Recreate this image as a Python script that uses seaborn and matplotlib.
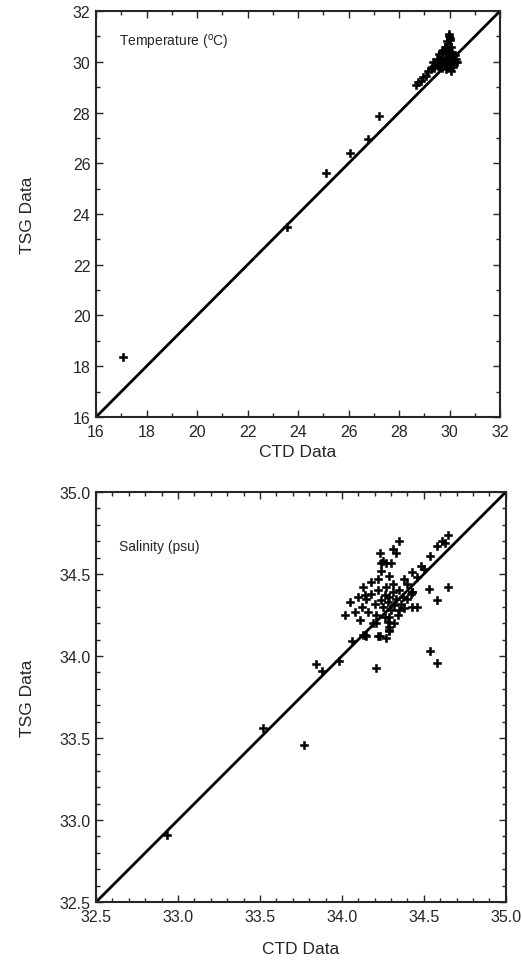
import matplotlib
matplotlib.use('Agg')
import matplotlib.pyplot as plt
import pandas as pd
import seaborn as sns
from matplotlib.ticker import MultipleLocator

# temperature: CTD vs TSG (deg C)
temp_ctd = [17.05, 23.57, 25.11, 26.07, 26.76, 27.20,
            28.68, 28.76, 28.85, 28.95, 29.05, 29.15, 29.25, 29.30, 29.35,
            29.45, 29.50, 29.55, 29.60, 29.65, 29.70, 29.70, 29.75, 29.80,
            29.80, 29.85, 29.85, 29.90, 29.90, 29.95, 29.96, 30.00, 30.00,
            30.00, 30.05, 30.05, 30.10, 30.10, 30.15, 30.15, 30.20, 30.25,
            30.30, 29.95, 29.75, 29.60, 29.90, 30.05, 29.90, 30.00, 29.98,
            29.40, 29.55, 29.70, 30.20, 29.85, 30.10]
temp_tsg = [18.35, 23.48, 25.60, 26.40, 26.96, 27.86,
            29.08, 29.19, 29.25, 29.39, 29.45, 29.62, 29.70, 29.80, 30.00,
            29.90, 30.10, 29.85, 30.30, 30.05, 29.75, 30.20, 30.45, 29.95,
            30.60, 30.30, 29.70, 30.10, 30.80, 30.45, 31.10, 29.90, 30.25,
            30.95, 30.60, 29.65, 30.05, 30.35, 29.80, 30.20, 30.00, 30.10,
            30.00, 30.70, 30.00, 29.95, 29.80, 30.40, 30.55, 30.85, 31.00,
            29.75, 30.00, 30.40, 30.25, 30.15, 29.90]

# salinity: CTD vs TSG (psu)
sal_ctd = [32.93, 33.52, 33.77, 33.84, 33.88, 33.98, 34.06, 34.14, 34.21,
           34.54, 34.58, 34.53, 34.65, 34.58,
           34.43, 34.48, 34.50, 34.54, 34.58, 34.61, 34.63, 34.65, 34.46,
           34.40, 34.38,
           34.35, 34.31, 34.33, 34.23, 34.24, 34.27, 34.30, 34.24, 34.29,
           34.25,
           34.08, 34.13, 34.16, 34.15, 34.18, 34.20, 34.21, 34.22, 34.24,
           34.25, 34.26, 34.27, 34.28, 34.28, 34.29, 34.29, 34.30, 34.31,
           34.32, 34.33, 34.34, 34.35, 34.36, 34.37, 34.38, 34.40, 34.42,
           34.43, 34.46, 34.19, 34.23, 34.22, 34.27, 34.29, 34.15, 34.11,
           34.12, 34.05, 34.02, 34.10, 34.32, 34.26, 34.35, 34.31, 34.18,
           34.22, 34.14, 34.13, 34.21, 34.29, 34.29, 34.43, 34.43]
sal_tsg = [32.91, 33.56, 33.46, 33.95, 33.91, 33.97, 34.09, 34.13, 33.93,
           34.03, 33.96, 34.41, 34.42, 34.34,
           34.51, 34.55, 34.53, 34.61, 34.67, 34.70, 34.69, 34.74, 34.48,
           34.44, 34.47,
           34.70, 34.65, 34.63, 34.63, 34.57, 34.57, 34.57, 34.52, 34.49,
           34.58,
           34.27, 34.42, 34.27, 34.35, 34.38, 34.32, 34.25, 34.40, 34.34,
           34.30, 34.37, 34.42, 34.21, 34.33, 34.36, 34.15, 34.28, 34.39,
           34.31, 34.35, 34.25, 34.40, 34.32, 34.36, 34.29, 34.35, 34.38,
           34.39, 34.30, 34.20, 34.12, 34.12, 34.11, 34.16, 34.12, 34.22,
           34.30, 34.33, 34.25, 34.36, 34.20, 34.24, 34.28, 34.44, 34.45,
           34.47, 34.37, 34.13, 34.20, 34.24, 34.18, 34.30, 34.39]


def draw_panel(ax, ctd, tsg, lims, major, minor, fmt, label, label_y, msize):
    df = pd.DataFrame({'CTD': ctd, 'TSG': tsg})
    ax.plot(lims, lims, color='black', lw=2.0, zorder=1)
    sns.scatterplot(data=df, x='CTD', y='TSG', ax=ax, marker='P',
                    color='black', s=msize, edgecolor='black',
                    linewidth=0.4, zorder=2)
    ax.set_xlim(lims)
    ax.set_ylim(lims)
    ax.xaxis.set_major_locator(MultipleLocator(major))
    ax.yaxis.set_major_locator(MultipleLocator(major))
    ax.xaxis.set_minor_locator(MultipleLocator(minor))
    ax.yaxis.set_minor_locator(MultipleLocator(minor))
    ax.xaxis.set_major_formatter(fmt)
    ax.yaxis.set_major_formatter(fmt)
    ax.tick_params(which='both', direction='in', top=True, right=True,
                   labelsize=11.5, width=1.0)
    ax.tick_params(which='major', length=5)
    ax.tick_params(which='minor', length=3)
    ax.tick_params(axis='x', which='major', pad=5)
    ax.tick_params(axis='y', which='major', pad=4)
    for s in ax.spines.values():
        s.set_linewidth(1.5)
    ax.set_xlabel('CTD Data', fontsize=12.5)
    ax.set_ylabel('TSG Data', fontsize=12.5)
    ax.yaxis.set_label_coords(-0.15, 0.5)
    ax.text(0.057, label_y, label, transform=ax.transAxes, fontsize=10,
            va='center', ha='left')


sns.set_style('ticks')
plt.rcParams['font.family'] = ['Liberation Sans', 'DejaVu Sans']

fig = plt.figure(figsize=(5.22, 9.62), dpi=100)
ax1 = fig.add_axes([0.184, 0.5655, 0.774, 0.422])
ax2 = fig.add_axes([0.184, 0.0613, 0.785, 0.4262])

draw_panel(ax1, temp_ctd, temp_tsg, (16, 32), 2, 1, '{x:.0f}',
           r'Temperature ($\mathregular{^{o}}$C)', 0.925, 36)
draw_panel(ax2, sal_ctd, sal_tsg, (32.5, 35.0), 0.5, 0.1, '{x:.1f}',
           'Salinity (psu)', 0.868, 34)
ax1.xaxis.labelpad = 4
ax2.xaxis.labelpad = 12

fig.savefig('out.png', dpi=100, facecolor='white')
